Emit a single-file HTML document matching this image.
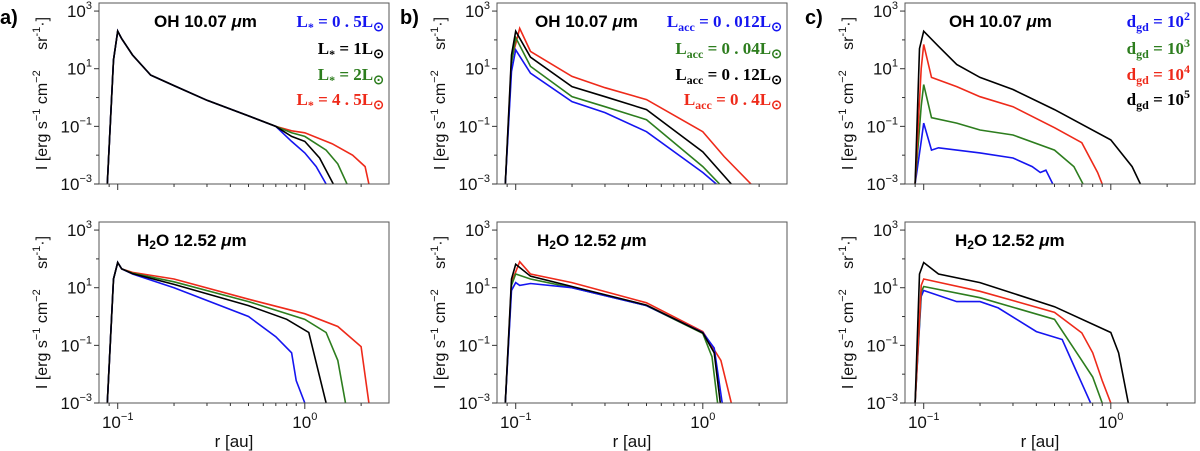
<!DOCTYPE html>
<html><head><meta charset="utf-8"><style>
html,body{margin:0;padding:0;background:#fff;width:1200px;height:451px;overflow:hidden}
svg text{font-family:"Liberation Sans",sans-serif}
.lg{font-family:"Liberation Serif",serif;font-weight:bold;font-size:17px}
</style></head><body>
<svg id="fig" width="1200" height="451" viewBox="0 0 1200 451" xmlns="http://www.w3.org/2000/svg"></svg>
<script>
// ---- data (r in au, I in erg s^-1 cm^-2 sr^-1) ----
const seriesColors = {blue:'#1515f0', black:'#000000', green:'#2d7d1e', red:'#ee2a1a'};
// Panel a top (OH)
const aTopHeadR = [0.088,0.095,0.1,0.105,0.12,0.15,0.2,0.3,0.5,0.7];
const aTopHeadI = [0.001,20,200,110,30,6,2.6,0.8,0.23,0.1];
const aTopBlueR = [0.85,1.0,1.15,1.3], aTopBlueI = [0.03,0.012,0.004,0.001];
const aTopBlackR = [0.85,1.0,1.2,1.42], aTopBlackI = [0.045,0.03,0.008,0.001];
const aTopGreenR = [0.85,1.0,1.3,1.5,1.68], aTopGreenI = [0.06,0.045,0.015,0.005,0.001];
const aTopRedR = [0.85,1.0,1.4,1.8,2.1,2.2], aTopRedI = [0.07,0.06,0.025,0.01,0.004,0.001];
// Panel a bottom (H2O)
const aBotBlueR = [0.088,0.095,0.1,0.105,0.12,0.2,0.5,0.7,0.85,0.9,1.0], aBotBlueI = [0.001,20,75,45,30,10,1,0.2,0.055,0.006,0.001];
const aBotBlackR = [0.088,0.095,0.1,0.105,0.12,0.2,0.5,0.8,1.05,1.15,1.3], aBotBlackI = [0.001,20,75,45,31,13,2.4,0.8,0.28,0.025,0.001];
const aBotGreenR = [0.088,0.095,0.1,0.105,0.12,0.2,0.5,1.0,1.3,1.5,1.65], aBotGreenI = [0.001,20,75,45,32,16,3.3,0.8,0.28,0.03,0.001];
const aBotRedR = [0.088,0.095,0.1,0.105,0.12,0.2,0.5,1.0,1.5,2.0,2.2], aBotRedI = [0.001,20,75,45,34,20,4,1.25,0.45,0.09,0.001];
// Panel b top (OH, Lacc)
const bTopBlueR = [0.088,0.095,0.1,0.12,0.2,0.3,0.5,1.0,1.18], bTopBlueI = [0.001,8,45,7,0.72,0.3,0.065,0.0025,0.001];
const bTopGreenR = [0.088,0.095,0.1,0.12,0.2,0.3,0.5,1.0,1.23], bTopGreenI = [0.001,15,120,12,1.07,0.48,0.17,0.004,0.001];
const bTopBlackR = [0.088,0.095,0.1,0.12,0.2,0.3,0.5,1.0,1.42], bTopBlackI = [0.001,30,200,25,2.4,1.07,0.38,0.013,0.001];
const bTopRedR = [0.088,0.095,0.105,0.12,0.2,0.3,0.5,1.0,1.3,1.81], bTopRedI = [0.001,20,250,40,5.4,2.2,0.85,0.065,0.009,0.001];
// Panel b bottom (H2O, Lacc)
const bBotBlueR = [0.088,0.095,0.1,0.105,0.12,0.2,0.5,1.0,1.15,1.27], bBotBlueI = [0.001,8,15,12,14,10,2.4,0.28,0.08,0.001];
const bBotGreenR = [0.088,0.095,0.1,0.12,0.2,0.5,1.0,1.12,1.2], bBotGreenI = [0.001,12,30,20,10,2.4,0.26,0.04,0.001];
const bBotBlackR = [0.088,0.095,0.1,0.12,0.2,0.5,1.0,1.15,1.24], bBotBlackI = [0.001,20,65,25,11,2.5,0.27,0.055,0.001];
const bBotRedR = [0.088,0.095,0.105,0.12,0.2,0.5,1.0,1.25,1.42], bBotRedI = [0.001,15,80,30,15,3,0.3,0.03,0.001];
// Panel c top (OH, dgd)
const cTopBlueR = [0.09,0.097,0.1,0.11,0.12,0.2,0.3,0.38,0.42,0.45,0.49], cTopBlueI = [0.001,0.03,0.13,0.015,0.018,0.012,0.008,0.004,0.0025,0.003,0.001];
const cTopGreenR = [0.09,0.097,0.1,0.11,0.15,0.2,0.3,0.5,0.635,0.71], cTopGreenI = [0.001,0.5,2.8,0.2,0.13,0.075,0.05,0.015,0.004,0.001];
const cTopRedR = [0.09,0.097,0.1,0.11,0.15,0.2,0.3,0.5,0.7,0.85,0.9], cTopRedI = [0.001,10,70,5,2.4,1.07,0.48,0.09,0.027,0.0025,0.001];
const cTopBlackR = [0.09,0.095,0.1,0.12,0.15,0.2,0.3,0.5,1.0,1.3,1.44], cTopBlackI = [0.001,50,200,60,14,5,1.9,0.38,0.034,0.004,0.001];
// Panel c bottom (H2O, dgd)
const cBotBlueR = [0.09,0.097,0.1,0.15,0.2,0.25,0.4,0.55,0.65,0.78], cBotBlueI = [0.001,5,8,3.3,3.3,2,0.3,0.16,0.014,0.001];
const cBotGreenR = [0.09,0.097,0.1,0.2,0.5,0.7,0.8,0.9], cBotGreenI = [0.001,7,11,4.5,0.8,0.03,0.008,0.001];
const cBotRedR = [0.09,0.097,0.1,0.2,0.5,0.7,0.8,0.9,1.0], cBotRedI = [0.001,12,20,7.5,1.4,0.27,0.055,0.006,0.001];
const cBotBlackR = [0.09,0.095,0.1,0.12,0.2,0.5,1.0,1.1,1.24], cBotBlackI = [0.001,30,75,30,15,2.2,0.28,0.055,0.001];
// axis ticks
const yTickExps = [-3,-1,1,3];
const xTickLabels = ['10\u207B\u00B9','10\u2070'];
</script>
<script>
const NS='http://www.w3.org/2000/svg';
const svg=document.getElementById('fig');
const W=290, H=181, XMIN=-1.1, XMAX=0.45, YMIN=-3, YMAX=3.28;
function mk(tag,attrs,parent){const e=document.createElementNS(NS,tag);for(const k in attrs)e.setAttribute(k,attrs[k]);(parent||svg).appendChild(e);return e;}
function panel(id,x0,y0,showX,series,title,legend){
  const g=mk('g',{});
  
  
  const sx=r=>x0+(Math.log10(r)-XMIN)/(XMAX-XMIN)*W;
  const sy=v=>y0+H-(Math.log10(v)-YMIN)/(YMAX-YMIN)*H;
  const cp=mk('clipPath',{id:'clip-'+id},g);
  mk('rect',{x:x0,y:y0,width:W,height:H},cp);
  // series
  series.forEach(s=>{
    const d=s.r.map((r,i)=>(i?'L':'M')+sx(r).toFixed(1)+','+sy(s.i[i]).toFixed(1)).join(' ');
    const p=mk('path',{d:d,fill:'none',stroke:seriesColors[s.c],'stroke-width':1.6,'clip-path':'url(#clip-'+id+')'},g);
    
    
  });
  const box=mk('rect',{x:x0,y:y0,width:W,height:H,fill:'none',stroke:'#555','stroke-width':1},g);
  
  
  // y ticks
  for(let e=-3;e<=3;e++){const y=sy(Math.pow(10,e));mk('line',{x1:x0-(e%2?5:3),x2:x0,y1:y,y2:y,stroke:'#333'},g);}
  yTickExps.forEach(e=>{
    const t=mk('text',{x:x0-7,y:sy(Math.pow(10,e))+6,'text-anchor':'end','font-size':17,fill:'#111'},g);
    
    
    t.textContent='10';
    const s=mk('tspan',{dy:-8,'font-size':11},t);s.textContent=(e<0?'\u2212':'')+Math.abs(e);
  });
  // x ticks
  const ticks=[0.09,0.1,0.2,0.3,0.4,0.5,0.6,0.7,0.8,0.9,1,2];
  ticks.forEach(r=>{const x=sx(r);const maj=(r===0.1||r===1);mk('line',{x1:x,x2:x,y1:y0+H,y2:y0+H+(maj?6:3),stroke:'#333'},g);});
  if(showX){
    [0.1,1].forEach((r,k)=>{
      const t=mk('text',{x:sx(r),y:y0+H+25,'text-anchor':'middle','font-size':17,fill:'#111'},g);
      
      
      t.textContent='10';
      const s=mk('tspan',{dy:-8,'font-size':11},t);s.textContent=(k===0?'\u22121':'0');
    });
    const xl=mk('text',{x:x0+W/2-10,y:y0+H+44,'text-anchor':'middle','font-size':17,fill:'#111'},g);
    
    
    xl.textContent='r [au]';
  }
  // y title
  const yl=mk('text',{transform:'translate('+(x0-52)+','+(y0+H/2)+') rotate(-90)','text-anchor':'middle','font-size':16,fill:'#111'},g);
  
  
  yl.innerHTML='I [erg s<tspan dy="-7" font-size="11">\u22121</tspan><tspan dy="7"> cm</tspan><tspan dy="-7" font-size="11">\u22122</tspan><tspan dy="7">\u2003 sr</tspan><tspan dy="-7" font-size="11">-1</tspan><tspan dy="7">\u00B7]</tspan>';
  // title
  const tt=mk('text',{x:x0+title.dx,y:y0+24,'font-size':17,'font-weight':'bold',fill:'#000'},g);
  
  
  tt.innerHTML=title.html;
  // legend
  if(legend){legend.forEach((l,i)=>{
    const t=mk('text',{x:x0+W-5,y:y0+l.y,'text-anchor':'end',class:'lg',fill:seriesColors[l.c]},g);
    
    
    t.innerHTML=l.html;
  });}
}
const S=(r,i,c)=>({r,i,c});
const OH={dx:55,html:'OH 10.07 <tspan font-style="italic">\u03BC</tspan>m'};
const H2O={dx:38,html:'H<tspan font-size="12" dy="3">2</tspan><tspan dy="-3">O 12.52 </tspan><tspan font-style="italic">\u03BC</tspan>m'};
const sun='<tspan font-size="13" dy="4">\u2299</tspan>';
const sub=(s)=>'<tspan font-size="12" dy="4">'+s+'</tspan><tspan dy="-4"> = ';
panel('panel-a-oh',99,3,false,[S(aTopHeadR.concat(aTopRedR),aTopHeadI.concat(aTopRedI),'red'),S(aTopHeadR.concat(aTopGreenR),aTopHeadI.concat(aTopGreenI),'green'),S(aTopHeadR.concat(aTopBlueR),aTopHeadI.concat(aTopBlueI),'blue'),S(aTopHeadR.concat(aTopBlackR),aTopHeadI.concat(aTopBlackI),'black')],OH,
 [{c:'blue',y:24,html:'L'+sub('*')+'0 . 5L</tspan>'+sun},{c:'black',y:51,html:'L'+sub('*')+'1L</tspan>'+sun},{c:'green',y:77,html:'L'+sub('*')+'2L</tspan>'+sun},{c:'red',y:102,html:'L'+sub('*')+'4 . 5L</tspan>'+sun}]);
panel('panel-a-h2o',99,222,true,[S(aBotRedR,aBotRedI,'red'),S(aBotGreenR,aBotGreenI,'green'),S(aBotBlueR,aBotBlueI,'blue'),S(aBotBlackR,aBotBlackI,'black')],H2O,null);
panel('panel-b-oh',497,3,false,[S(bTopRedR,bTopRedI,'red'),S(bTopGreenR,bTopGreenI,'green'),S(bTopBlueR,bTopBlueI,'blue'),S(bTopBlackR,bTopBlackI,'black')],{dx:38,html:OH.html},
 [{c:'blue',y:24,html:'L'+sub('acc')+'0 . 012L</tspan>'+sun},{c:'green',y:51,html:'L'+sub('acc')+'0 . 04L</tspan>'+sun},{c:'black',y:77,html:'L'+sub('acc')+'0 . 12L</tspan>'+sun},{c:'red',y:102,html:'L'+sub('acc')+'0 . 4L</tspan>'+sun}]);
panel('panel-b-h2o',497,222,true,[S(bBotRedR,bBotRedI,'red'),S(bBotGreenR,bBotGreenI,'green'),S(bBotBlueR,bBotBlueI,'blue'),S(bBotBlackR,bBotBlackI,'black')],{dx:40,html:H2O.html},null);
panel('panel-c-oh',905,3,false,[S(cTopBlueR,cTopBlueI,'blue'),S(cTopGreenR,cTopGreenI,'green'),S(cTopRedR,cTopRedI,'red'),S(cTopBlackR,cTopBlackI,'black')],{dx:44,html:OH.html},
 [{c:'blue',y:24,html:'d'+sub('gd')+'10<tspan font-size="12" dy="-7">2</tspan></tspan>'},{c:'green',y:51,html:'d'+sub('gd')+'10<tspan font-size="12" dy="-7">3</tspan></tspan>'},{c:'red',y:77,html:'d'+sub('gd')+'10<tspan font-size="12" dy="-7">4</tspan></tspan>'},{c:'black',y:102,html:'d'+sub('gd')+'10<tspan font-size="12" dy="-7">5</tspan></tspan>'}]);
panel('panel-c-h2o',905,222,true,[S(cBotBlueR,cBotBlueI,'blue'),S(cBotGreenR,cBotGreenI,'green'),S(cBotRedR,cBotRedI,'red'),S(cBotBlackR,cBotBlackI,'black')],{dx:50,html:H2O.html},null);
// panel letters
[['a)',0],['b)',400],['c)',805]].forEach(p=>{
  const t=mk('text',{x:p[1],y:24,'font-size':20,'font-weight':'bold',fill:'#000'});
  
  
  t.textContent=p[0];
});
</script>
</body></html>
